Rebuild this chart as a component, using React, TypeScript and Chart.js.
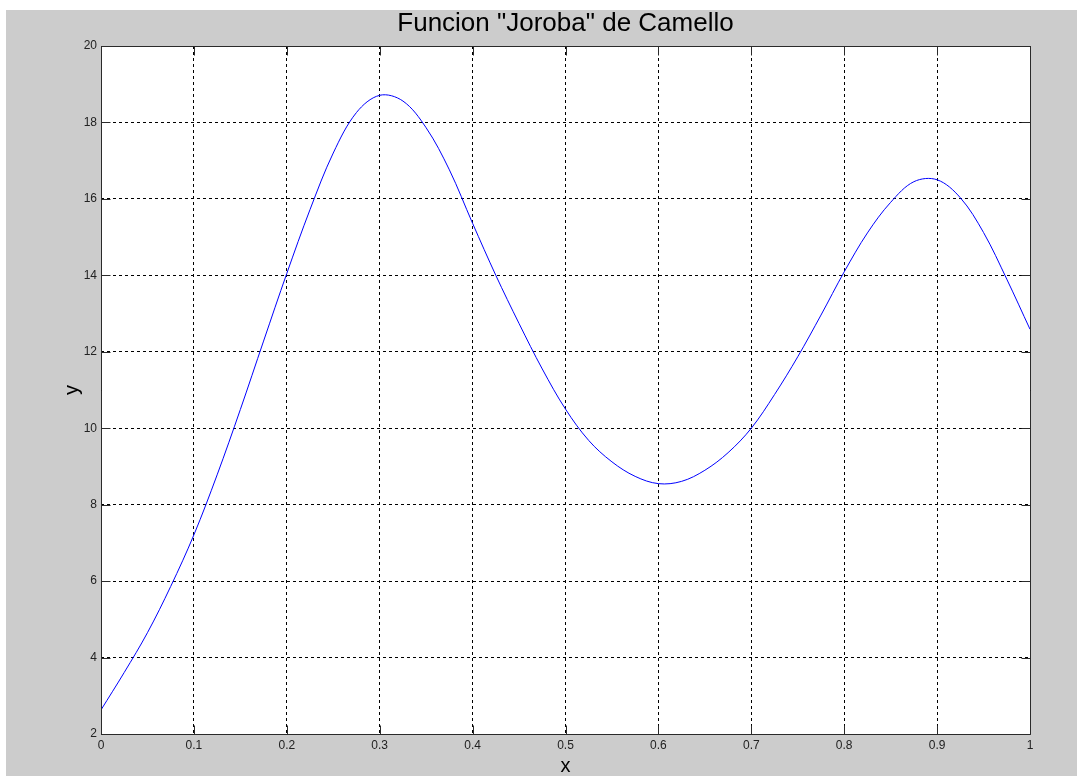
import React, { useEffect, useRef } from 'react';
import { Chart, registerables } from 'chart.js';

Chart.register(...registerables);

// Curve (x every 0.025)
const xValues = [0, 0.025, 0.05, 0.075, 0.1, 0.125, 0.15, 0.175, 0.2, 0.225, 0.25, 0.275, 0.3, 0.325, 0.35, 0.375, 0.4, 0.425, 0.45, 0.475, 0.5, 0.525, 0.55, 0.575, 0.6, 0.625, 0.65, 0.675, 0.7, 0.725, 0.75, 0.775, 0.8, 0.825, 0.85, 0.875, 0.9, 0.925, 0.95, 0.975, 1.0];
const yValues = [2.63, 3.61, 4.65, 5.86, 7.21, 8.78, 10.49, 12.28, 14.05, 15.72, 17.2, 18.26, 18.71, 18.56, 17.86, 16.76, 15.36, 14.0, 12.74, 11.55, 10.5, 9.68, 9.12, 8.74, 8.55, 8.61, 8.9, 9.36, 10.0, 10.88, 11.87, 12.96, 14.09, 15.11, 15.91, 16.45, 16.5, 16.03, 15.12, 13.9, 12.59];

const xTicks = [0, 0.1, 0.2, 0.3, 0.4, 0.5, 0.6, 0.7, 0.8, 0.9, 1];
const xTickLabels = ['0', '0.1', '0.2', '0.3', '0.4', '0.5', '0.6', '0.7', '0.8', '0.9', '1'];
const yTicks = [2, 4, 6, 8, 10, 12, 14, 16, 18, 20];
const yTickLabels = ['2', '4', '6', '8', '10', '12', '14', '16', '18', '20'];

const chartTitle = 'Funcion "Joroba" de Camello';
const xTitle = 'x';
const yTitle = 'y';

const FONT = '"Liberation Sans", Arial, Helvetica, sans-serif';

const framePlugin = {
  id: 'matlabFrame',
  beforeDraw(chart: any) {
    const { ctx, chartArea: a } = chart;
    ctx.save();
    ctx.fillStyle = '#ffffff';
    ctx.fillRect(a.left, a.top, a.right - a.left + 1, a.bottom - a.top + 1);
    ctx.restore();
  },
  afterDatasetsDraw(chart: any) {
    const { ctx, chartArea: a, scales } = chart;
    const L = Math.round(a.left) + 0.5;
    const R = Math.round(a.right) + 0.5;
    const T = Math.round(a.top) + 0.5;
    const B = Math.round(a.bottom) + 0.5;
    const tick = 9;
    ctx.save();
    ctx.setLineDash([]);
    ctx.strokeStyle = '#2a2a2a';
    ctx.lineWidth = 1;
    ctx.beginPath();
    ctx.moveTo(L, T);
    ctx.lineTo(R, T);
    ctx.lineTo(R, B);
    ctx.lineTo(L, B);
    ctx.closePath();
    scales.x.ticks.forEach((t: any) => {
      const px = Math.round(scales.x.getPixelForValue(t.value)) + 0.5;
      ctx.moveTo(px, B);
      ctx.lineTo(px, B - tick);
      ctx.moveTo(px, T);
      ctx.lineTo(px, T + tick);
    });
    scales.y.ticks.forEach((t: any) => {
      const py = Math.round(scales.y.getPixelForValue(t.value)) + 0.5;
      ctx.moveTo(L, py);
      ctx.lineTo(L + tick, py);
      ctx.moveTo(R, py);
      ctx.lineTo(R - tick, py);
    });
    ctx.stroke();
    ctx.restore();
  },
};

export default function App() {
  const canvasRef = useRef<HTMLCanvasElement | null>(null);

  useEffect(() => {
    if (!canvasRef.current) return;
    const points = xValues.map((x, i) => ({ x, y: yValues[i] }));
    const chart = new Chart(canvasRef.current, {
      type: 'line',
      data: {
        datasets: [
          {
            data: points,
            borderColor: '#0000ff',
            borderWidth: 1,
            pointRadius: 0,
            fill: false,
            tension: 0.35,
          },
        ],
      },
      options: {
        responsive: false,
        animation: false,
        devicePixelRatio: 1,
        layout: { padding: { left: 0, right: 47, top: 0, bottom: 0 } },
        plugins: {
          legend: { display: false },
          tooltip: { enabled: false },
          title: {
            display: true,
            text: chartTitle,
            fullSize: false,
            color: '#000000',
            font: { family: FONT, size: 26, weight: 'normal', lineHeight: 1 },
            padding: { top: 1, bottom: 9 },
          },
        },
        scales: {
          x: {
            type: 'linear',
            min: 0,
            max: 1,
            afterBuildTicks: (scale: any) => {
              scale.ticks = xTicks.map((v) => ({ value: v }));
            },
            afterFit: (scale: any) => {
              scale.height = 42;
            },
            grid: { color: '#000000', lineWidth: 1, drawTicks: false },
            border: { display: false, dash: [3, 3] },
            ticks: {
              padding: 4,
              color: '#222222',
              font: { family: FONT, size: 12 },
              maxRotation: 0,
              autoSkip: false,
              callback: (_v: any, i: number) => xTickLabels[i],
            },
            title: {
              display: true,
              text: xTitle,
              color: '#000000',
              font: { family: FONT, size: 20, lineHeight: 1 },
              padding: { top: 0, bottom: 0 },
            },
          },
          y: {
            type: 'linear',
            min: 2,
            max: 20,
            afterBuildTicks: (scale: any) => {
              scale.ticks = yTicks.map((v) => ({ value: v }));
            },
            afterFit: (scale: any) => {
              scale.width = 95;
            },
            grid: { color: '#000000', lineWidth: 1, drawTicks: false },
            border: { display: false, dash: [3, 3] },
            ticks: {
              padding: 4,
              color: '#222222',
              font: { family: FONT, size: 12 },
              autoSkip: false,
              callback: (_v: any, i: number) => yTickLabels[i],
            },
            title: {
              display: true,
              text: yTitle,
              color: '#000000',
              font: { family: FONT, size: 20, lineHeight: 1 },
              padding: { top: 56, bottom: 0 },
            },
          },
        },
      },
      plugins: [framePlugin],
    } as any);
    return () => chart.destroy();
  }, []);

  return (
    <div
      style={{
        position: 'absolute',
        left: 6,
        top: 10,
        width: 1071,
        height: 766,
        background: '#cccccc',
      }}
    >
      <canvas ref={canvasRef} width={1071} height={766} style={{ display: 'block', width: 1071, height: 766 }} />
    </div>
  );
}
